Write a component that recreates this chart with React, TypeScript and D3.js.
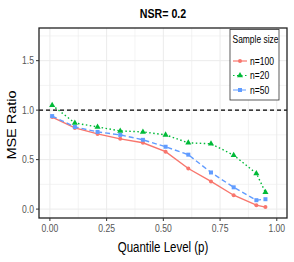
import React from 'react';
import * as d3 from 'd3';

const quantiles = [0.01, 0.11, 0.21, 0.31, 0.41, 0.51, 0.61, 0.71, 0.81, 0.91, 0.95];
const n100 = [0.93, 0.82, 0.76, 0.71, 0.67, 0.58, 0.41, 0.28, 0.14, 0.04, 0.02];
const n20 = [1.05, 0.87, 0.83, 0.79, 0.78, 0.75, 0.67, 0.66, 0.545, 0.36, 0.17];
const n50 = [0.94, 0.83, 0.78, 0.75, 0.7, 0.63, 0.55, 0.37, 0.22, 0.09, 0.1];
const xTicks = [0, 0.25, 0.5, 0.75, 1];
const yTicks = [0, 0.5, 1, 1.5];

const series = [
  { name: 'n=100', values: n100, color: '#F8766D', dash: '', shape: 'circle' },
  { name: 'n=20', values: n20, color: '#00BA38', dash: '1.5,2.5', shape: 'triangle' },
  { name: 'n=50', values: n50, color: '#619CFF', dash: '5,3', shape: 'square' },
];

const W = 294;
const H = 262;
const margin = { top: 28, right: 7, bottom: 44, left: 39 };
const font = 'Liberation Sans, Arial, sans-serif';
const SQ = 0.82; // the picture is squeezed horizontally

// horizontal text, narrowed like the original
const T: React.FC<{ x: number; y: number; size: number; anchor?: string; fill?: string; bold?: boolean; children: React.ReactNode }> =
  ({ x, y, size, anchor = 'start', fill = '#000', bold, children }) => (
    <text transform={`translate(${x},${y}) scale(${SQ},1)`} textAnchor={anchor} fontSize={size} fill={fill}
      fontWeight={bold ? 'bold' : 'normal'}>{children}</text>
  );

const Marker: React.FC<{ shape: string; x: number; y: number; color: string }> = ({ shape, x, y, color }) => {
  if (shape === 'circle') return <circle cx={x} cy={y} r={2} fill={color} />;
  if (shape === 'square') return <rect x={x - 2} y={y - 2} width={4} height={4} fill={color} />;
  const p = d3.symbol(d3.symbolTriangle, 16)();
  return <path d={p || ''} transform={`translate(${x},${y})`} fill={color} />;
};

export default function App() {
  const x = d3.scaleLinear().domain([-0.048, 1.045]).range([margin.left, W - margin.right]);
  const y = d3.scaleLinear().domain([-0.09, 1.83]).range([H - margin.bottom, margin.top]);
  const line = d3.line<number>().x((_, i) => x(quantiles[i])).y(d => y(d));

  const xMinor = d3.range(-0.125, 1.1, 0.125).filter(v => v >= -0.048 && v <= 1.045);
  const yMinor = d3.range(0, 1.9, 0.25).filter(v => v <= 1.83);

  return (
    <svg width={W} height={H} style={{ position: 'absolute', left: 0, top: 0 }} fontFamily={font}>
      <rect width={W} height={H} fill="#fff" />
      <T x={163} y={17.5} size={13} anchor="middle" bold>NSR= 0.2</T>
      {/* grid */}
      {xMinor.map(v => (
        <line key={'xg' + v} x1={x(v)} x2={x(v)} y1={margin.top} y2={H - margin.bottom}
          stroke="#ebebeb" strokeWidth={xTicks.includes(v) ? 1 : 0.6} />
      ))}
      {yMinor.map(v => (
        <line key={'yg' + v} y1={y(v)} y2={y(v)} x1={margin.left} x2={W - margin.right}
          stroke="#ebebeb" strokeWidth={yTicks.includes(v) ? 1 : 0.6} />
      ))}
      <line x1={margin.left} x2={W - margin.right} y1={y(1)} y2={y(1)} stroke="#000" strokeDasharray="4,3" strokeWidth={1.2} />
      {series.map(s => (
        <g key={s.name}>
          <path d={line(s.values) || ''} fill="none" stroke={s.color} strokeWidth={1.4} strokeDasharray={s.dash} />
          {s.values.map((v, i) => (
            <Marker key={i} shape={s.shape} x={x(quantiles[i])} y={y(v)} color={s.color} />
          ))}
        </g>
      ))}
      <rect x={margin.left} y={margin.top} width={W - margin.left - margin.right} height={H - margin.top - margin.bottom}
        fill="none" stroke="#222" strokeWidth={1.3} />
      {/* axes */}
      {xTicks.map(v => (
        <g key={'xt' + v}>
          <line x1={x(v)} x2={x(v)} y1={H - margin.bottom} y2={H - margin.bottom + 3} stroke="#333" />
          <T x={x(v)} y={H - margin.bottom + 14} size={10.5} anchor="middle" fill="#555">{v.toFixed(2)}</T>
        </g>
      ))}
      {yTicks.map(v => (
        <g key={'yt' + v}>
          <line x1={margin.left - 3} x2={margin.left} y1={y(v)} y2={y(v)} stroke="#333" />
          <T x={margin.left - 5} y={y(v) + 3.8} size={10.5} anchor="end" fill="#555">{v.toFixed(1)}</T>
        </g>
      ))}
      <T x={163} y={252} size={14} anchor="middle">Quantile Level (p)</T>
      <text transform={`translate(15.5,${(margin.top + H - margin.bottom) / 2 + 2}) scale(${SQ},1) rotate(-90)`}
        textAnchor="middle" fontSize={14.5}>MSE Ratio</text>
      {/* legend */}
      <rect x={230} y={29.5} width={49} height={70.5} fill="#fff" stroke="#333" strokeWidth={0.8} />
      <T x={232.5} y={42.5} size={10.3}>Sample size</T>
      {series.map((s, i) => {
        const ly = 61 + i * 14.5;
        return (
          <g key={'lg' + s.name}>
            <line x1={233} x2={247} y1={ly} y2={ly} stroke={s.color} strokeWidth={1.2} strokeDasharray={s.dash} />
            <Marker shape={s.shape} x={240} y={ly} color={s.color} />
            <T x={250} y={ly + 3.6} size={10.4}>{s.name}</T>
          </g>
        );
      })}
    </svg>
  );
}
